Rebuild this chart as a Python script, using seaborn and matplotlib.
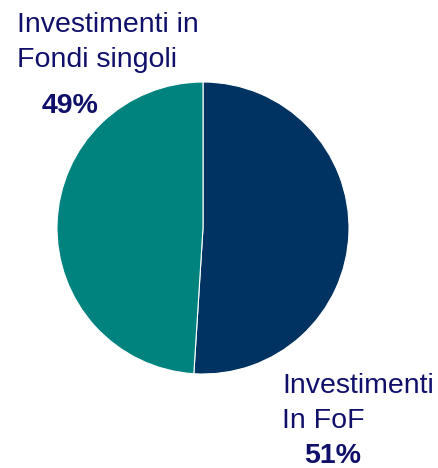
import matplotlib
matplotlib.use('Agg')
import matplotlib.pyplot as plt
import seaborn as sns

# Dati
categorie = ['Investimenti In FoF', 'Investimenti in Fondi singoli']
quote = [51, 49]
colori = ['#003361', '#00827F']
etichette = ['Investimenti\nIn FoF', 'Investimenti in\nFondi singoli']
percentuali = ['51%', '49%']

sns.set_style('white')
plt.rcParams['font.family'] = ['Liberation Sans', 'DejaVu Sans']

W, H = 439, 468
fig = plt.figure(figsize=(W / 100, H / 100), dpi=100)

cx, cy, r = 203, 228, 146
ax = fig.add_axes([(cx - r) / W, (H - cy - r) / H, 2 * r / W, 2 * r / H])
ax.pie(quote, colors=colori, startangle=90, counterclock=False,
       wedgeprops=dict(edgecolor='white', linewidth=0.8), radius=1)
ax.set_xlim(-1, 1)
ax.set_ylim(-1, 1)
ax.set_aspect('equal')
ax.axis('off')

testo = '#10106B'
fs = 20.5


def scrivi(x, y, s, **kw):
    # coordinate in pixel dall'angolo in alto a sinistra, y = linea di base
    fig.text(x / W, 1 - y / H, s, ha='left', va='baseline', fontsize=fs,
             color=testo, **kw)


# etichetta Fondi singoli (in alto a sinistra)
for i, riga in enumerate(etichette[1].split('\n')):
    scrivi(17, 32 + 35 * i, riga)
scrivi(42, 113, percentuali[1], fontweight='bold')

# etichetta FoF (in basso a destra)
for i, riga in enumerate(etichette[0].split('\n')):
    scrivi(282, 393 + 35 * i, riga)
scrivi(304, 463, percentuali[0], fontweight='bold')

fig.savefig('out.png', dpi=100)
